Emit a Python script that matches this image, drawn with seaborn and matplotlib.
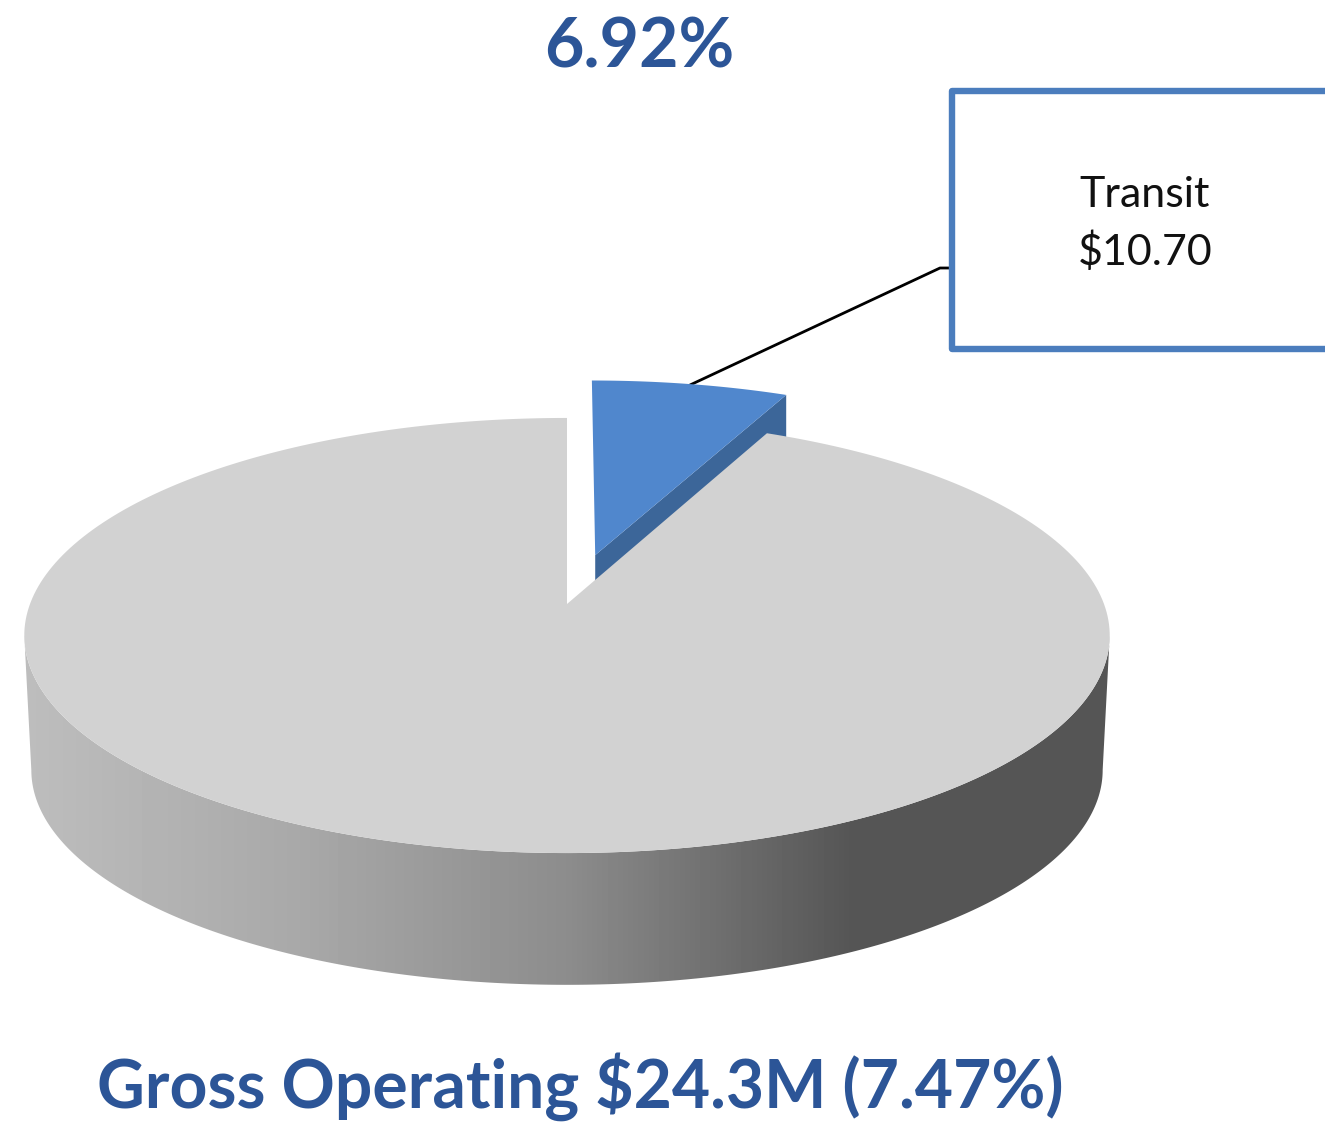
import numpy as np
import seaborn as sns
import matplotlib.pyplot as plt
from matplotlib.patches import Polygon, Rectangle

# data
slice_names = ["Transit", "Other"]
slice_values = [6.92, 93.08]
slice_explode = [0.243, 0]
title_text = "6.92%"
footer_text = "Gross Operating $24.3M (7.47%)"
callout_name = "Transit"
callout_value = "$10.70"

BLUE_TEXT = "#2c5597"
BLUE_TOP = "#5087cd"
BLUE_SIDE = "#3c6699"
GREY_TOP = "#d2d2d2"
BOX_BLUE = "#4b7dbd"

sns.set_theme(style="white")
plt.rcParams["font.family"] = ["Lato", "DejaVu Sans"]

fig = plt.figure(figsize=(13.25, 11.29), dpi=100)
ax = fig.add_axes([0, 0, 1, 1])
ax.set_xlim(0, 1325)
ax.set_ylim(1129, 0)
ax.axis("off")

# the pie itself lives on a hidden axes, angles come from there
pie_ax = fig.add_axes([0, 0, 0.1, 0.1])
wedges, _ = pie_ax.pie(slice_values, explode=slice_explode, startangle=90, counterclock=False)
pie_ax.set_visible(False)

# perspective of the tilted disc
PERSP = 0.1448
TOP = (567, 604)
BOTTOM = (567, 739)


def project(x, y, origin=TOP, scale=1.0):
    w = 1 + PERSP * y
    return np.column_stack([origin[0] + scale * 537 * x / w, origin[1] - scale * 213 * y / w])


def wedge_outline(w, n=300):
    t = np.radians(np.linspace(w.theta1, w.theta2, n))
    xs = np.r_[w.center[0], w.center[0] + w.r * np.cos(t)]
    ys = np.r_[w.center[1], w.center[1] + w.r * np.sin(t)]
    return xs, ys


transit, other = wedges

# side of the grey disc, shaded left to right
tilt = np.degrees(np.arcsin(PERSP))
t = np.radians(np.linspace(180 + tilt, 360 - tilt, 400))
upper = project(np.cos(t), np.sin(t))
lower = project(np.cos(t), np.sin(t), BOTTOM, 0.987)
side = Polygon(np.vstack([upper, lower[::-1]]), closed=True, transform=ax.transData, fc="none", ec="none")
ax.add_patch(side)

xs = np.arange(0, 1325)
shade = np.interp(xs, [30, 300, 567, 850, 1102], [0.74, 0.66, 0.55, 0.335, 0.335])
img = ax.imshow(shade[None, :], extent=(0, 1325, 1000, 600), cmap="gray", vmin=0, vmax=1,
                aspect="auto", zorder=1)
img.set_clip_path(side)
ax.set_xlim(0, 1325)
ax.set_ylim(1129, 0)

# blue slice, its cut face is hidden below the grey top
bx, by = wedge_outline(transit)
blue_top = project(bx, by) + [1, 0]
apex, corner = blue_top[0], blue_top[np.argmax(blue_top[:, 0])]
face = [apex, corner, corner + [0, 135], apex + [0, 135]]
ax.add_patch(Polygon(face, closed=True, fc=BLUE_SIDE, ec="none", zorder=2))

# grey top
gx, gy = wedge_outline(other)
ax.add_patch(Polygon(project(gx, gy), closed=True, fc=GREY_TOP, ec="none", zorder=3))

# callout
ax.plot([690, 940, 951], [385, 268, 268], color="black", lw=2, zorder=3)
ax.add_patch(Polygon(blue_top, closed=True, fc=BLUE_TOP, ec="none", zorder=4))
ax.add_patch(Rectangle((952, 91), 400, 258, fc="white", ec=BOX_BLUE, lw=4.6, joinstyle="round", zorder=5))
ax.text(1145, 195, callout_name, ha="center", va="center", fontsize=31, color="#111111", zorder=6)
ax.text(1145, 252, callout_value, ha="center", va="center", fontsize=31, color="#111111", zorder=6)

ax.text(639, 68, title_text, ha="center", va="baseline", fontsize=49, fontweight="bold", color=BLUE_TEXT)
ax.text(580, 1108, footer_text, ha="center", va="baseline", fontsize=47.5, fontweight="bold", color=BLUE_TEXT)

fig.savefig("out.png", dpi=100)
